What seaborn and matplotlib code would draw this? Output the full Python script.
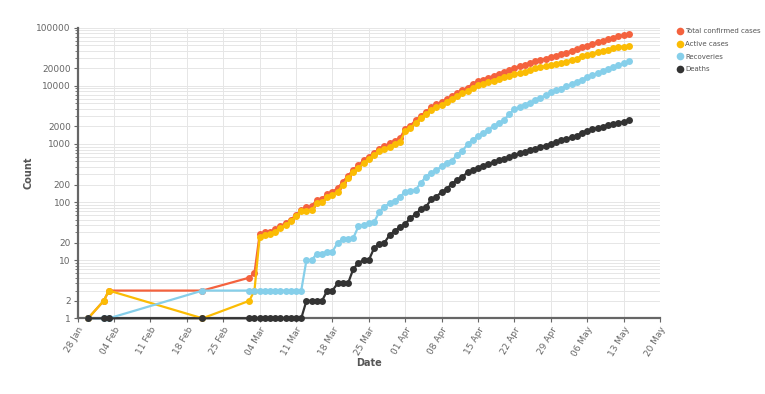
import numpy as np
import pandas as pd
import matplotlib
matplotlib.use("Agg")
import matplotlib.pyplot as plt
from matplotlib.lines import Line2D
import seaborn as sns

# ---------------- data ----------------
# month-day of each report, as placed on the reference's weekly axis
DATES = ["01-30", "02-02", "02-03", "02-21",
         "03-02", "03-03", "03-04", "03-05", "03-06", "03-07", "03-08", "03-09",
         "03-10", "03-11", "03-12", "03-13", "03-14", "03-15", "03-16", "03-17",
         "03-18", "03-19", "03-20", "03-21", "03-22", "03-23", "03-24", "03-25",
         "03-26", "03-27", "03-28", "03-29", "03-30", "03-31",
         "04-01", "04-02", "04-03", "04-04", "04-05", "04-06", "04-07", "04-08",
         "04-09", "04-10", "04-11", "04-12", "04-13", "04-14", "04-15", "04-16",
         "04-17", "04-18", "04-19", "04-20", "04-21", "04-22", "04-23", "04-24",
         "04-25", "04-26", "04-27", "04-28", "04-29", "04-30",
         "05-01", "05-02", "05-03", "05-04", "05-05", "05-06", "05-07", "05-08",
         "05-09", "05-10", "05-11", "05-12", "05-13", "05-14"]

TOTAL = [1, 2, 3, 3,
         5, 6, 28, 30, 31, 34, 39, 43,
         50, 60, 73, 81, 84, 110, 114, 137,
         151, 173, 223, 283, 360, 433, 519, 606,
         694, 834, 918, 1024, 1139, 1251,
         1834, 2069, 2547, 3072, 3577, 4281, 4789, 5274,
         5865, 6761, 7529, 8447, 9352, 10815, 11933, 12759,
         13835, 14792, 16116, 17265, 18601, 20471, 21700, 23077,
         24506, 26496, 27892, 29435, 31332, 33050,
         35043, 37336, 39980, 42533, 46433, 49391, 52952, 56342,
         59662, 62939, 67152, 70756, 74281, 78003]

RECOVERIES = [0, 0, 0, 3,
              3, 3, 3, 3, 3, 3, 3, 3,
              3, 3, 3, 10, 10, 13, 13, 14,
              14, 20, 23, 23, 24, 38, 40, 43,
              45, 67, 83, 95, 106, 124,
              148, 155, 162, 212, 275, 318, 353, 411,
              478, 516, 653, 764, 980, 1190, 1344, 1515,
              1767, 2015, 2302, 2547, 3252, 3960, 4325, 4749,
              5063, 5804, 6185, 6869, 7696, 8325,
              8889, 9951, 10633, 11707, 12727, 14183, 15267, 16540,
              17847, 19358, 20917, 22455, 24386, 26235]

DEATHS = [0, 0, 0, 0,
          0, 0, 0, 0, 0, 0, 0, 0,
          0, 0, 0, 2, 2, 2, 2, 3,
          3, 4, 4, 4, 7, 9, 10, 10,
          16, 19, 20, 27, 32, 37,
          42, 53, 62, 75, 83, 111, 124, 149,
          169, 206, 242, 273, 324, 353, 392, 420,
          452, 488, 519, 543, 590, 652, 686, 718,
          775, 824, 872, 934, 1007, 1074,
          1147, 1218, 1301, 1373, 1568, 1694, 1783, 1886,
          1981, 2109, 2206, 2293, 2415, 2549]

ACTIVE = [t - r - d for t, r, d in zip(TOTAL, RECOVERIES, DEATHS)]

SERIES = ["Total confirmed cases", "Active cases", "Recoveries", "Deaths"]
COLORS = ["#f4623e", "#fbbc04", "#86cfea", "#333333"]

X_TICK_LABELS = ["28 Jan", "04 Feb", "11 Feb", "18 Feb", "25 Feb", "04 Mar",
                 "11 Mar", "18 Mar", "25 Mar", "01 Apr", "08 Apr", "15 Apr",
                 "22 Apr", "29 Apr", "06 May", "13 May", "20 May"]
Y_TICKS = [1, 2, 10, 20, 100, 200, 1000, 2000, 10000, 20000, 100000]

# ---------------- build table ----------------
# the reference's axis runs on a 365-day calendar, so parse in a non-leap year
YEAR = "2021"
dates = pd.to_datetime([YEAR + "-" + d for d in DATES])
df = pd.DataFrame({"date": dates,
                   SERIES[0]: TOTAL, SERIES[1]: ACTIVE,
                   SERIES[2]: RECOVERIES, SERIES[3]: DEATHS})
long = df.melt(id_vars="date", var_name="series", value_name="count")
# zero counts sit on the floor of the log axis in the reference
long["count"] = long["count"].clip(lower=1)

# ---------------- plot ----------------
sns.set_theme(style="white")
plt.rcParams["font.family"] = ["DejaVu Sans"]

fig = plt.figure(figsize=(7.65, 3.94), dpi=100)
ax = fig.add_axes([0.1016, 0.1921, 0.7610, 0.7376])
ax.set_yscale("log")

sns.lineplot(data=long, x="date", y="count", hue="series",
             hue_order=SERIES, palette=COLORS, marker="o",
             markersize=5, markeredgewidth=0, linewidth=1.6,
             errorbar=None, legend=False, ax=ax, clip_on=False, zorder=3)

xt = pd.to_datetime([l + " " + YEAR for l in X_TICK_LABELS], format="%d %b %Y")
ax.set_xlim(xt[0], xt[-1])
ax.set_xticks(xt)
ax.set_xticklabels(X_TICK_LABELS, rotation=60, ha="right",
                   rotation_mode="anchor", fontsize=6.5, color="#666666")

ax.set_ylim(1, 100000)
minor = [m * 10 ** e for e in range(0, 5) for m in range(2, 10)]
ax.yaxis.set_minor_locator(matplotlib.ticker.FixedLocator(minor))
ax.yaxis.set_minor_formatter(matplotlib.ticker.NullFormatter())
ax.set_yticks(Y_TICKS)
ax.set_yticklabels([str(v) for v in Y_TICKS], fontsize=6.5, color="#666666")

ax.tick_params(axis="both", which="major", length=3, width=0.8,
               color="#666666", pad=2, left=True, bottom=True)
ax.tick_params(axis="y", which="minor", length=2, width=0.6,
               color="#666666", left=True)

ax.grid(True, which="both", axis="y", color="#e6e6e6", linewidth=0.7, zorder=0)
ax.grid(True, which="major", axis="x", color="#e6e6e6", linewidth=0.7, zorder=0)
ax.set_axisbelow(True)

for s in ["top", "right"]:
    ax.spines[s].set_visible(False)
for s in ["left", "bottom"]:
    ax.spines[s].set_color("#666666")
    ax.spines[s].set_linewidth(1.6)

ax.set_xlabel("Date", fontsize=7, fontweight="bold", color="#555555", labelpad=0)
ax.set_ylabel("Count", fontsize=7, fontweight="bold", color="#555555", labelpad=2)

handles = [Line2D([0], [0], marker="o", linestyle="none", markersize=5.5,
                  markerfacecolor=c, markeredgewidth=0) for c in COLORS]
fig.legend(handles, SERIES, loc="upper left", bbox_to_anchor=(0.880, 0.935),
           frameon=False, fontsize=5.0, handletextpad=0.15, labelspacing=0.95,
           borderaxespad=0, handlelength=1.2, labelcolor="#555555")

fig.savefig("out.png", dpi=100)
